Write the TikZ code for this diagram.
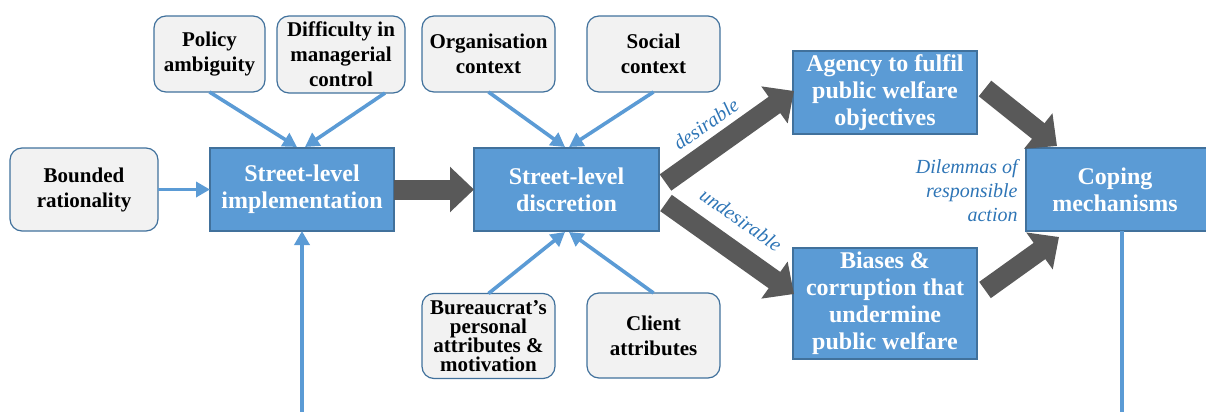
\documentclass[tikz,border=0pt]{standalone}
\usepackage{fontspec}
\setmainfont{LiberationSerif}[Extension=.ttf,UprightFont=*-Regular,BoldFont=*-Bold,ItalicFont=*-Italic,BoldItalicFont=*-BoldItalic]
\usetikzlibrary{arrows.meta,calc}
\definecolor{bfill}{HTML}{5B9BD5}
\definecolor{bedge}{HTML}{41719C}
\definecolor{gfill}{HTML}{F2F2F2}
\definecolor{darkarrow}{HTML}{595959}
\definecolor{lbl}{HTML}{2E75B6}
\tikzset{
  gbox/.style={draw=bedge, line width=0.6pt, fill=gfill, rounded corners=6pt, align=center,
    font=\fontsize{10.5}{12.5}\selectfont\bfseries, inner sep=1pt, outer sep=0pt},
  bbox/.style={draw=bedge, line width=0.6pt, fill=bfill, text=white, align=center,
    font=\fontsize{12}{13.5}\selectfont\bfseries, inner sep=1pt, outer sep=0pt},
  thinarrow/.style={draw=bfill, line width=1.8pt, -{Triangle[width=7.5pt,length=7pt]}},
  thinline/.style={draw=bfill, line width=1.8pt},
  fatarrow/.style={draw=darkarrow, line width=10pt, -{Triangle[width=22pt,length=12pt]}},
  lbltext/.style={text=lbl, font=\fontsize{10}{12}\selectfont\itshape, inner sep=1pt},
}
\begin{document}
\begin{tikzpicture}[x=0.5pt,y=-0.5pt]
\useasboundingbox (0,0) rectangle (1206,412);
% grey boxes
\node[gbox, minimum width=55.5pt, minimum height=38pt] (pol) at (209.5,54) {Policy\\ambiguity};
\node[gbox, minimum width=64pt, minimum height=38.5pt] (dif) at (341,54.5) {Difficulty in\\managerial\\control};
\node[gbox, minimum width=66.5pt, minimum height=38pt] (org) at (488.5,54) {Organisation\\context};
\node[gbox, minimum width=66.5pt, minimum height=38pt] (soc) at (653.5,54) {Social\\context};
\node[gbox, minimum width=74pt, minimum height=41.5pt] (bou) at (84,189.5) {Bounded\\rationality};
\node[gbox, minimum width=66.5pt, minimum height=42.5pt, font=\fontsize{10.5}{9.6}\selectfont\bfseries] (bur) at (488.5,336) {Bureaucrat’s\\personal\\attributes \&\\motivation};
\node[gbox, minimum width=66.5pt, minimum height=42.5pt] (cli) at (653.5,335.5) {Client\\attributes};
% blue boxes
\node[bbox, minimum width=92pt, minimum height=41.5pt] (imp) at (302,189.5) {Street-level\\implementation};
\node[bbox, minimum width=92.5pt, minimum height=41.5pt] (dis) at (566.5,189.5) {Street-level\\discretion};
\node[bbox, minimum width=92pt, minimum height=41.5pt] (age) at (885,92.5) {Agency to fulfil\\public welfare\\objectives};
\node[bbox, minimum width=92pt, minimum height=55.5pt] (bia) at (885,303.5) {Biases \&\\corruption that\\undermine\\public welfare};
\node[bbox, minimum width=93pt, minimum height=41.5pt, text width=88pt] (cop) at (1119,189.5) {\hspace*{-4pt}Coping\\\hspace*{-4pt}mechanisms};
% coordinates for free ends
\coordinate (bot) at (302,412);
\coordinate (copbot) at (1122,412);
% thin arrows
\draw[thinarrow] (pol.south) -- (297,147);
\draw[thinarrow] ($(dif.south east)+(-20,0)$) -- (305,147);
\draw[thinarrow] (bou.east) -- (imp.west);
\draw[thinarrow] (bot) -- (imp.south);
\draw[thinarrow] (org.south) -- (565,147);
\draw[thinarrow] (soc.south) -- (569,147);
\draw[thinarrow] (bur.north) -- (565,232);
\draw[thinarrow] (cli.north) -- (569,232);
\draw[thinline] (1122,231) -- (copbot);
% fat arrows
\draw[fatarrow] (imp.east) -- (dis.west);
\draw[fatarrow] (665.5,182.5) -- (794,91);
\draw[fatarrow] (666,203) -- (794,294);
\draw[fatarrow] (985,88.5) -- (1057,146);
\draw[fatarrow] (985,290) -- (1059,237);
% labels
\node[lbltext, rotate=35] (ldes) at (706,124) {desirable};
\node[lbltext, rotate=-35] (lund) at (741,220) {undesirable};
\node[lbltext, align=right, anchor=east] (ldil) at (1020,191) {Dilemmas of\\responsible\\action};
\end{tikzpicture}
\end{document}
